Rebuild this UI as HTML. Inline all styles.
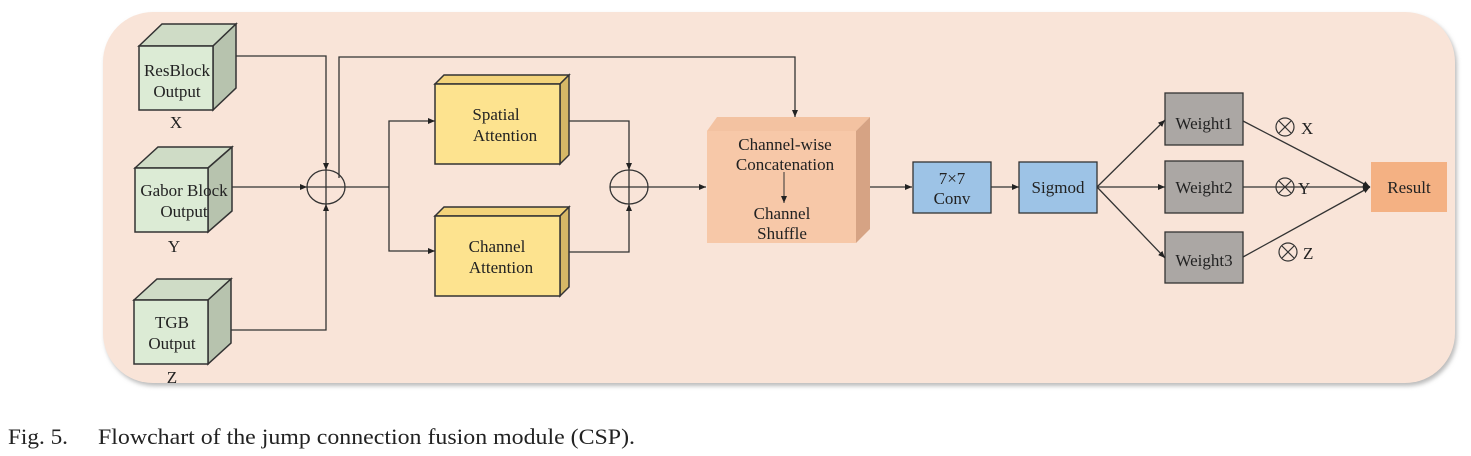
<!DOCTYPE html>
<html><head><meta charset="utf-8"><style>
html,body{margin:0;padding:0;background:#fff;width:1471px;height:456px;overflow:hidden}
svg{display:block}
text{font-family:"Liberation Serif","Times New Roman",Times,serif;fill:#222}
</style></head><body>
<svg width="1471" height="456" viewBox="0 0 1471 456" xmlns="http://www.w3.org/2000/svg">
<defs>
<marker id="a" markerWidth="8" markerHeight="8" refX="7" refY="4" orient="auto" markerUnits="userSpaceOnUse"><path d="M0,1 L7,4 L0,7 z" fill="#222"/></marker>
<filter id="sh" x="-5%" y="-5%" width="110%" height="115%"><feGaussianBlur stdDeviation="2"/></filter>
</defs>
<rect x="105" y="15" width="1352" height="371" rx="50" fill="#bbb" filter="url(#sh)"/>
<rect x="103" y="12" width="1352" height="371" rx="50" fill="#f9e4d8"/>

<g stroke="#333" stroke-width="1.5">
<polygon points="139,46 162,24 236,24 213,46" fill="#cfdcc6"/>
<polygon points="213,46 236,24 236,88 213,110" fill="#b7c3ae"/>
<rect x="139" y="46" width="74" height="64" fill="#dcebd5"/>
<polygon points="135,168 158,147 232,147 208,168" fill="#cfdcc6"/>
<polygon points="208,168 232,147 232,211 208,232" fill="#b7c3ae"/>
<rect x="135" y="168" width="73" height="64" fill="#dcebd5"/>
<polygon points="134,300 157,279 231,279 208,300" fill="#cfdcc6"/>
<polygon points="208,300 231,279 231,343 208,364" fill="#b7c3ae"/>
<rect x="134" y="300" width="74" height="64" fill="#dcebd5"/>
<polygon points="435,84 444,75 569,75 560,84" fill="#f3d37a"/>
<polygon points="560,84 569,75 569,155 560,164" fill="#d6b866"/>
<rect x="435" y="84" width="125" height="80" fill="#fde38f"/>
<polygon points="435,216 444,207 569,207 560,216" fill="#f3d37a"/>
<polygon points="560,216 569,207 569,287 560,296" fill="#d6b866"/>
<rect x="435" y="216" width="125" height="80" fill="#fde38f"/>
</g>
<polygon points="707,131 717,117 870,117 856,131" fill="#f3c2a1"/>
<polygon points="856,131 870,117 870,229 856,243" fill="#d6a384"/>
<rect x="707" y="131" width="149" height="112" fill="#f7c8a8"/>

<g stroke="#333" stroke-width="1.3">
<rect x="913" y="162" width="78" height="51" fill="#9dc3e6"/>
<rect x="1019" y="162" width="78" height="51" fill="#9dc3e6"/>
<rect x="1165" y="93" width="78" height="52" fill="#aba7a4"/>
<rect x="1165" y="161" width="78" height="52" fill="#aba7a4"/>
<rect x="1165" y="232" width="78" height="51" fill="#aba7a4"/>
</g>
<rect x="1371" y="162" width="76" height="50" fill="#f4b183"/>

<g stroke="#333" stroke-width="1.3" fill="none">
<polyline points="236,56 326,56 326,170" marker-end="url(#a)"/>
<line x1="232" y1="187" x2="307" y2="187" marker-end="url(#a)"/>
<polyline points="231,330 326,330 326,204" marker-end="url(#a)"/>
<polyline points="339,178 339,57 795,57 795,117" marker-end="url(#a)"/>
<ellipse cx="326" cy="187" rx="19" ry="17"/>
<line x1="307" y1="187" x2="345" y2="187"/><line x1="326" y1="170" x2="326" y2="204"/>
<line x1="345" y1="187" x2="389" y2="187"/>
<polyline points="389,187 389,121 435,121" marker-end="url(#a)"/>
<polyline points="389,187 389,251 435,251" marker-end="url(#a)"/>
<polyline points="569,121 629,121 629,170" marker-end="url(#a)"/>
<polyline points="569,252 629,252 629,204" marker-end="url(#a)"/>
<ellipse cx="629" cy="187" rx="19" ry="17"/>
<line x1="610" y1="187" x2="648" y2="187"/><line x1="629" y1="170" x2="629" y2="204"/>
<line x1="648" y1="187" x2="706" y2="187" marker-end="url(#a)"/>
<line x1="784" y1="172" x2="784" y2="203" stroke-width="1" marker-end="url(#a)"/>
<line x1="870" y1="187" x2="912" y2="187" marker-end="url(#a)"/>
<line x1="991" y1="187" x2="1019" y2="187" marker-end="url(#a)"/>
<line x1="1097" y1="187" x2="1165" y2="120" marker-end="url(#a)"/>
<line x1="1097" y1="187" x2="1165" y2="187" marker-end="url(#a)"/>
<line x1="1097" y1="187" x2="1165" y2="258" marker-end="url(#a)"/>
<line x1="1243" y1="121" x2="1370" y2="187" marker-end="url(#a)"/>
<line x1="1243" y1="187" x2="1370" y2="187" marker-end="url(#a)"/>
<line x1="1243" y1="257" x2="1370" y2="187" marker-end="url(#a)"/>
</g>
<g stroke="#333" stroke-width="1.2" fill="none">
<circle cx="1285" cy="127" r="9"/><path d="M1279,121 L1291,133 M1291,121 L1279,133"/>
<circle cx="1285" cy="187" r="9"/><path d="M1279,181 L1291,193 M1291,181 L1279,193"/>
<circle cx="1288" cy="252" r="9"/><path d="M1282,246 L1294,258 M1294,246 L1282,258"/>
</g>

<g font-size="17" text-anchor="middle">
<text x="177" y="76">ResBlock</text><text x="177" y="97">Output</text>
<text x="176" y="128">X</text>
<text x="184" y="196">Gabor Block</text><text x="184" y="217">Output</text>
<text x="174" y="252">Y</text>
<text x="172" y="328">TGB</text><text x="172" y="349">Output</text>
<text x="172" y="383">Z</text>
<text x="496" y="120">Spatial</text><text x="505" y="141">Attention</text>
<text x="497" y="252">Channel</text><text x="501" y="273">Attention</text>
<text x="785" y="150">Channel-wise</text><text x="785" y="170">Concatenation</text>
<text x="782" y="219">Channel</text><text x="782" y="239">Shuffle</text>
<text x="952" y="184">7×7</text><text x="952" y="204">Conv</text>
<text x="1058" y="193">Sigmod</text>
<text x="1204" y="129">Weight1</text>
<text x="1204" y="193">Weight2</text>
<text x="1204" y="266">Weight3</text>
<text x="1409" y="193">Result</text>
</g>
<g font-size="17">
<text x="1301" y="134">X</text><text x="1298" y="194">Y</text><text x="1303" y="259">Z</text>
</g>
<text x="8" y="444" font-size="22" textLength="60" lengthAdjust="spacingAndGlyphs">Fig. 5.</text>
<text x="98" y="444" font-size="22" textLength="537" lengthAdjust="spacingAndGlyphs">Flowchart of the jump connection fusion module (CSP).</text>
</svg>
</body></html>
